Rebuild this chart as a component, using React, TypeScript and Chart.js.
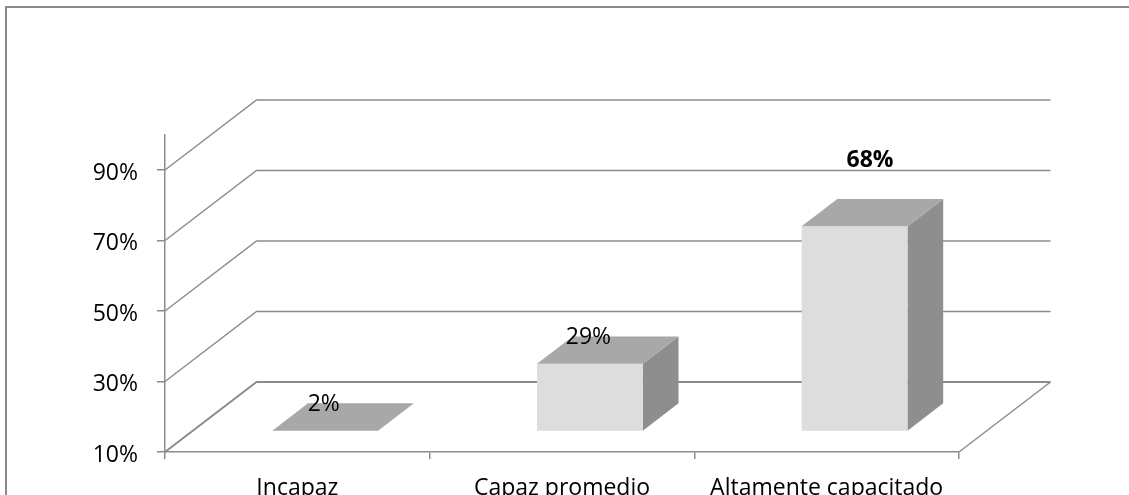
import { useEffect, useRef } from "react";
import { Chart, registerables } from "chart.js";

Chart.register(...registerables);

const categories = ["Incapaz", "Capaz promedio", "Altamente capacitado"];
const values = [2, 29, 68];
const yTicks = [10, 30, 50, 70, 90];
const yMin = 10;
const yMax = 100;

const FONT = "'Open Sans', Lato, sans-serif";
const FSIZE = 23;
const DEPTH = { x: 91.5, y: -70 };
const FRONT = 0.305;
const BACK = 0.695;
const LINE = "#8c8c8c";

const excel3d = {
  id: "excel3d",
  beforeDraw(chart: any) {
    const ctx = chart.ctx;
    const ys = chart.scales.y;
    const { left: L, right: R } = chart.chartArea;
    ctx.save();
    // outer chart border
    ctx.strokeStyle = "#8a8a8a";
    ctx.lineWidth = 2;
    ctx.beginPath();
    ctx.moveTo(6, 600);
    ctx.lineTo(6, 7);
    ctx.lineTo(1300, 7);
    ctx.stroke();
    // back wall / side wall gridlines
    ctx.strokeStyle = LINE;
    yTicks.forEach((v) => {
      const py = ys.getPixelForValue(v);
      ctx.lineWidth = v === yMin ? 2 : 1.5;
      ctx.beginPath();
      ctx.moveTo(L, py);
      ctx.lineTo(L + DEPTH.x, py + DEPTH.y);
      ctx.lineTo(R + DEPTH.x, py + DEPTH.y);
      ctx.stroke();
    });
    // floor right edge
    const pb = ys.getPixelForValue(yMin);
    ctx.lineWidth = 1.5;
    ctx.beginPath();
    ctx.moveTo(R, pb);
    ctx.lineTo(R + DEPTH.x, pb + DEPTH.y);
    ctx.stroke();
    ctx.restore();
  },
  afterDatasetsDraw(chart: any) {
    const ctx = chart.ctx;
    const ys = chart.scales.y;
    const meta = chart.getDatasetMeta(0);
    const f1x = FRONT * DEPTH.x, f1y = FRONT * DEPTH.y;
    const f2x = BACK * DEPTH.x, f2y = BACK * DEPTH.y;
    const yb = ys.getPixelForValue(yMin);
    ctx.save();
    meta.data.forEach((el: any, i: number) => {
      const v = Math.min(Math.max(values[i], yMin), yMax);
      const yt = ys.getPixelForValue(v);
      const xl = el.x - el.width / 2;
      const xr = el.x + el.width / 2;
      const poly = (pts: number[][], color: string) => {
        ctx.fillStyle = color;
        ctx.beginPath();
        ctx.moveTo(pts[0][0], pts[0][1]);
        for (let k = 1; k < pts.length; k++) ctx.lineTo(pts[k][0], pts[k][1]);
        ctx.closePath();
        ctx.fill();
      };
      if (yb - yt > 0.5) {
        // side face
        poly(
          [
            [xr + f1x, yt + f1y],
            [xr + f2x, yt + f2y],
            [xr + f2x, yb + f2y],
            [xr + f1x, yb + f1y],
          ],
          "#8e8e8e"
        );
        // front face
        poly(
          [
            [xl + f1x, yt + f1y],
            [xr + f1x, yt + f1y],
            [xr + f1x, yb + f1y],
            [xl + f1x, yb + f1y],
          ],
          "#dddddd"
        );
      }
      // top face
      poly(
        [
          [xl + f1x, yt + f1y],
          [xr + f1x, yt + f1y],
          [xr + f2x, yt + f2y],
          [xl + f2x, yt + f2y],
        ],
        "#a8a8a8"
      );
    });
    // data labels (the last one was moved by hand in the original)
    const shiftX = [0, 0, 17];
    const shiftY = [0, 0, -39];
    const bold = [false, false, true];
    ctx.fillStyle = "#000";
    ctx.textAlign = "center";
    ctx.textBaseline = "middle";
    meta.data.forEach((el: any, i: number) => {
      const v = Math.min(Math.max(values[i], yMin), yMax);
      const yt = ys.getPixelForValue(v);
      ctx.font = `${bold[i] ? "bold " : ""}${FSIZE}px ${FONT}`;
      ctx.fillText(values[i] + "%", el.x + f1x - 1.5 + shiftX[i], yt + f2y + 1 + shiftY[i]);
    });
    ctx.restore();
  },
};

export default function App() {
  const ref = useRef<HTMLCanvasElement>(null);
  useEffect(() => {
    if (!ref.current) return;
    const chart = new Chart(ref.current, {
      type: "bar",
      data: {
        labels: categories,
        datasets: [
          {
            data: values,
            backgroundColor: "rgba(0,0,0,0)",
            borderWidth: 0,
            barPercentage: 0.4,
            categoryPercentage: 1,
          },
        ],
      },
      options: {
        responsive: false,
        animation: false,
        devicePixelRatio: 1,
        layout: { padding: { left: 0, right: 170, top: 134.75, bottom: 0 } },
        plugins: { legend: { display: false }, tooltip: { enabled: false } },
        scales: {
          x: {
            type: "category",
            offset: true,
            afterFit: (s: any) => {
              s.height = 43;
            },
            grid: {
              display: true,
              drawOnChartArea: false,
              drawTicks: true,
              tickLength: 7,
              color: LINE,
              lineWidth: 1.5,
              offset: true,
            },
            border: { display: true, color: LINE, width: 1.5 },
            ticks: {
              color: "#000",
              font: { family: FONT, size: FSIZE },
              padding: 16,
              maxRotation: 0,
              autoSkip: false,
            },
          },
          y: {
            type: "linear",
            min: yMin,
            max: yMax,
            afterFit: (s: any) => {
              s.width = 165;
            },
            afterBuildTicks: (s: any) => {
              s.ticks = yTicks.map((v) => ({ value: v }));
            },
            grid: {
              display: true,
              drawOnChartArea: false,
              drawTicks: true,
              tickLength: 8,
              color: LINE,
              lineWidth: 1.5,
            },
            border: { display: true, color: LINE, width: 1.5 },
            ticks: {
              color: "#000",
              font: { family: FONT, size: FSIZE },
              padding: 19,
              labelOffset: 3,
              callback: (v: any) => v + "%",
            },
          },
        },
      },
      plugins: [excel3d],
    });
    return () => chart.destroy();
  }, []);
  return (
    <div style={{ position: "fixed", left: 0, top: 0, width: 1129, height: 495, background: "#fff" }}>
      <canvas ref={ref} width={1129} height={495} style={{ display: "block" }} />
    </div>
  );
}
